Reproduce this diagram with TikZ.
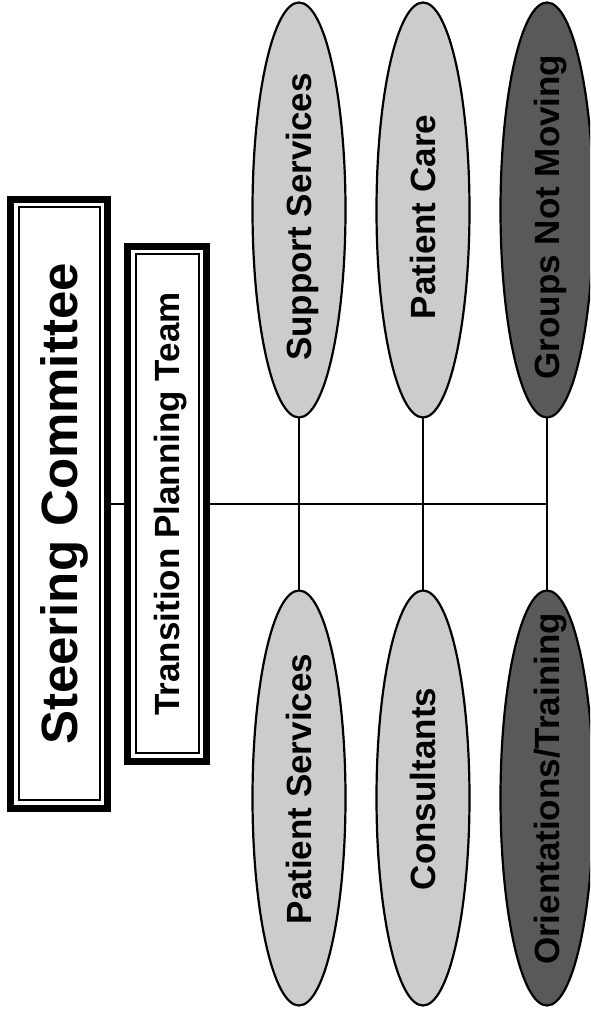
\documentclass[tikz,border=0pt]{standalone}
\usepackage{fontspec}
\setmainfont{Liberation Sans}
\usetikzlibrary{positioning, shapes.geometric, fit}

\begin{document}
\begin{tikzpicture}[
        x=1pt, y=1pt,
        node distance=31pt,
        big/.style={font=\bfseries\fontsize{51}{56}\selectfont, text height=37pt, text depth=0pt},
        mid/.style={font=\bfseries\fontsize{35}{40}\selectfont, text height=25pt, text depth=0pt},
        rot/.style={mid, inner sep=0pt, yshift=#1, rotate=90},
        rot/.default=0pt,
        inbox/.style={draw, line width=2pt, rotate=90, outer sep=0pt, inner sep=0pt},
        frame/.style={draw, line width=7pt, outer sep=0pt, inner sep=8pt},
        group/.style={ellipse, draw, line width=2.2pt, outer sep=0pt, inner sep=0pt, minimum width=93pt, minimum height=415pt},
        light/.style={group, fill=black!20},
        dark/.style={group, fill=black!65},
        line/.style={draw, line width=1.3pt}
    ]

    \useasboundingbox (0,0) rectangle (590,1014);
    \clip (0,0) rectangle (590,1014);

    % boxes on the left
    \node (steer) [inbox, big, minimum width=593pt, minimum height=81pt] at (59,510) {Steering Committee};
    \node (steerframe) [frame, fit=(steer)] {};
    \node (plan) [inbox, mid, minimum width=499pt, minimum height=63pt] at (167,510) {Transition Planning Team};
    \node (planframe) [frame, fit=(plan)] {};

    % groups
    \node (support) [light, label={[rot=-7pt]center:Support Services}] at (299,804) {};
    \node (care) [light, right=of support, label={[rot=-7pt]center:Patient Care}] {};
    \node (notmoving) [dark, right=of care, label={[rot=-7pt]center:Groups Not Moving}] {};
    \node (patserv) [light, below=173pt of support, label={[rot=9pt]center:Patient Services}] {};
    \node (consult) [light, below=173pt of care, label={[rot=9pt]center:Consultants}] {};
    \node (training) [dark, below=173pt of notmoving, label={[rot=9pt]center:Orientations/Training}] {};

    \coordinate (hub) at (notmoving |- plan);

    \draw[line] (steerframe) -- (planframe);
    \draw[line] (planframe) -- (hub);
    \draw[line] (support) -- (patserv);
    \draw[line] (care) -- (consult);
    \draw[line] (notmoving) -- (training);

\end{tikzpicture}
\end{document}
